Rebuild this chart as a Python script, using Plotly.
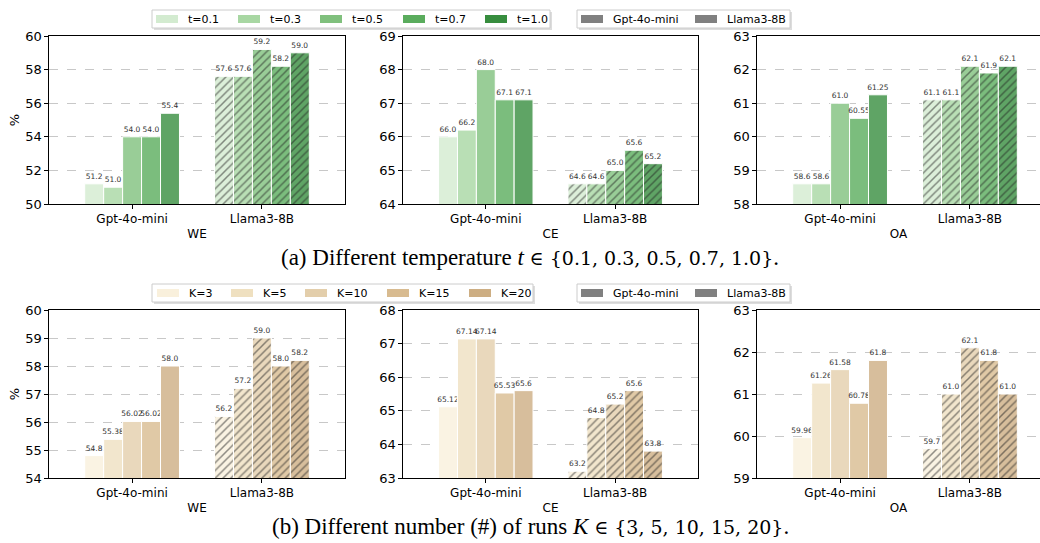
import plotly.graph_objects as go
from plotly.subplots import make_subplots

# ---------------- data ----------------
models = ["Gpt-4o-mini", "Llama3-8B"]
temps = ["t=0.1", "t=0.3", "t=0.5", "t=0.7", "t=1.0"]
runs = ["K=3", "K=5", "K=10", "K=15", "K=20"]
metrics = ["WE", "CE", "OA"]

# (a) temperature: values per setting, [Gpt-4o-mini, Llama3-8B]
we_t_gpt = [51.2, 51.0, 54.0, 54.0, 55.4]
we_t_llama = [57.6, 57.6, 59.2, 58.2, 59.0]
ce_t_gpt = [66.0, 66.2, 68.0, 67.1, 67.1]
ce_t_llama = [64.6, 64.6, 65.0, 65.6, 65.2]
oa_t_gpt = [58.6, 58.6, 61.0, 60.55, 61.25]
oa_t_llama = [61.1, 61.1, 62.1, 61.9, 62.1]

# (b) number of runs K
we_k_gpt = [54.8, 55.38, 56.02, 56.02, 58.0]
we_k_llama = [56.2, 57.2, 59.0, 58.0, 58.2]
ce_k_gpt = [65.12, 67.14, 67.14, 65.53, 65.6]
ce_k_llama = [63.2, 64.8, 65.2, 65.6, 63.8]
oa_k_gpt = [59.96, 61.26, 61.58, 60.78, 61.8]
oa_k_llama = [59.7, 61.0, 62.1, 61.8, 61.0]

# ---------------- style ----------------
green_colors = ["#d3ebd0", "#a8d7a3", "#80c07d", "#5aac5d", "#378d3e"]
tan_colors = ["#f9f0dc", "#efe0c0", "#e3ceab", "#d8bb90", "#cdae83"]
ALPHA = 0.8


def blend(hexcol, a=ALPHA):
    h = hexcol.lstrip("#")
    r, g, b = (int(h[i:i + 2], 16) for i in (0, 2, 4))
    r, g, b = (round(c * a + 255 * (1 - a)) for c in (r, g, b))
    return f"rgb({r},{g},{b})"


FONT = "DejaVu Sans"
W, H = 1040, 543
fig = make_subplots(rows=2, cols=3)

panels_top = [(we_t_gpt, we_t_llama), (ce_t_gpt, ce_t_llama), (oa_t_gpt, oa_t_llama)]
panels_bot = [(we_k_gpt, we_k_llama), (ce_k_gpt, ce_k_llama), (oa_k_gpt, oa_k_llama)]

for row, panels, names, cols in [(1, panels_top, temps, green_colors),
                                  (2, panels_bot, runs, tan_colors)]:
    for c, (gvals, lvals) in enumerate(panels, start=1):
        for i, name in enumerate(names):
            ys = [gvals[i], lvals[i]]
            fig.add_trace(go.Bar(
                x=models, y=ys, name=name, showlegend=False,
                text=[str(v) for v in ys], textposition="outside",
                textfont=dict(family=FONT, size=7.5, color="#333333"),
                constraintext="none", cliponaxis=False,
                marker=dict(color=blend(cols[i]),
                            line=dict(color="white", width=1),
                            pattern=dict(shape=["", "/"], fgcolor="#222222",
                                         size=5.5, solidity=0.28, fillmode="overlay")),
            ), row=row, col=c)

xdom = [[49 / W, 345 / W], [403 / W, 698 / W], [757 / W, 1.0]]
ydom = [[1 - 204 / H, 1 - 36 / H], [1 - 478 / H, 1 - 310 / H]]
yranges = [[[50, 60], [64, 69], [58, 63]], [[54, 60], [63, 68], [59, 63]]]
ydticks = [[2, 1, 1], [1, 1, 1]]

layout = dict(
    width=W, height=H, margin=dict(l=0, r=0, t=0, b=0, autoexpand=False),
    plot_bgcolor="white", paper_bgcolor="white", showlegend=False,
    barmode="group", bargap=0.27, bargroupgap=0,
    font=dict(family=FONT, size=12, color="black"),
)
for r in range(2):
    for c in range(3):
        k = r * 3 + c + 1
        xr = [-0.64, 1.64] if c < 2 else [-0.64, -0.64 + 2.28 * (W - 757) / 296]
        layout[f"xaxis{k}"] = dict(
            domain=xdom[c], range=xr, showline=True, linecolor="black", linewidth=1.2,
            mirror=True, ticks="outside", ticklen=3.5, tickcolor="black",
            tickfont=dict(size=12), showgrid=False,
            title=dict(text=metrics[c], font=dict(size=12), standoff=4),
        )
        layout[f"yaxis{k}"] = dict(
            domain=ydom[r], range=yranges[r][c], dtick=ydticks[r][c],
            showline=True, linecolor="black", linewidth=1.2,
            mirror=(c < 2), ticks="outside", ticklen=3.5, tickcolor="black",
            ticklabelstandoff=0,
            tickfont=dict(size=13), showgrid=True, gridcolor="#c8c8c8",
            griddash="dash", gridwidth=0.8, zeroline=False,
            title=dict(text="%" if c == 0 else "", font=dict(size=13), standoff=2),
        )
fig.update_layout(**layout)


# ---------------- hand-drawn legends (matplotlib style) ----------------
def px_x(v):
    return v / W


def px_y(v):
    return 1 - v / H


def draw_legend(labels, colors, x0, x1, swatch_x, top):
    # shadow + frame
    fig.add_shape(type="rect", xref="paper", yref="paper",
                  x0=px_x(x0 + 2), x1=px_x(x1 + 2), y0=px_y(top + 2), y1=px_y(top + 20),
                  fillcolor="#dddddd", line=dict(width=0), layer="above")
    fig.add_shape(type="rect", xref="paper", yref="paper",
                  x0=px_x(x0), x1=px_x(x1), y0=px_y(top), y1=px_y(top + 18),
                  fillcolor="white", line=dict(color="#cccccc", width=1), layer="above")
    for lab, col, sx in zip(labels, colors, swatch_x):
        fig.add_shape(type="rect", xref="paper", yref="paper",
                      x0=px_x(sx), x1=px_x(sx + 22), y0=px_y(top + 5), y1=px_y(top + 13),
                      fillcolor=col, line=dict(width=0), layer="above")
        fig.add_annotation(text=lab, x=px_x(sx + 30), y=px_y(top + 9), xref="paper", yref="paper",
                           showarrow=False, xanchor="left", yanchor="middle",
                           font=dict(family=FONT, size=11, color="black"))


draw_legend(temps, green_colors, 152, 550, [156, 238, 320, 403, 485], 10)
draw_legend(models, ["#808080", "#808080"], 577, 790, [581, 695], 10)
draw_legend(runs, tan_colors, 152, 533, [157, 231, 305, 387, 469], 284)
draw_legend(models, ["#808080", "#808080"], 577, 790, [581, 695], 284)

# ---------------- captions ----------------
SERIF = "Liberation Serif"
MATH = '<span style="font-family:DejaVu Serif;font-size:19px">'
fig.add_annotation(text="(a) Different temperature <i>t</i> " + MATH + "∈ {0.1, 0.3, 0.5, 0.7, 1.0}</span>.",
                   x=530 / W, y=1 - 257 / H, xref="paper", yref="paper", showarrow=False,
                   font=dict(family=SERIF, size=23, color="black"), xanchor="center", yanchor="middle")
fig.add_annotation(text="(b) Different number (#) of runs <i>K</i> " + MATH + "∈ {3, 5, 10, 15, 20}</span>.",
                   x=530 / W, y=1 - 526 / H, xref="paper", yref="paper", showarrow=False,
                   font=dict(family=SERIF, size=23, color="black"), xanchor="center", yanchor="middle")

fig.write_html("out.html", config={"displayModeBar": False},
               post_script="document.body.style.margin='0';")
